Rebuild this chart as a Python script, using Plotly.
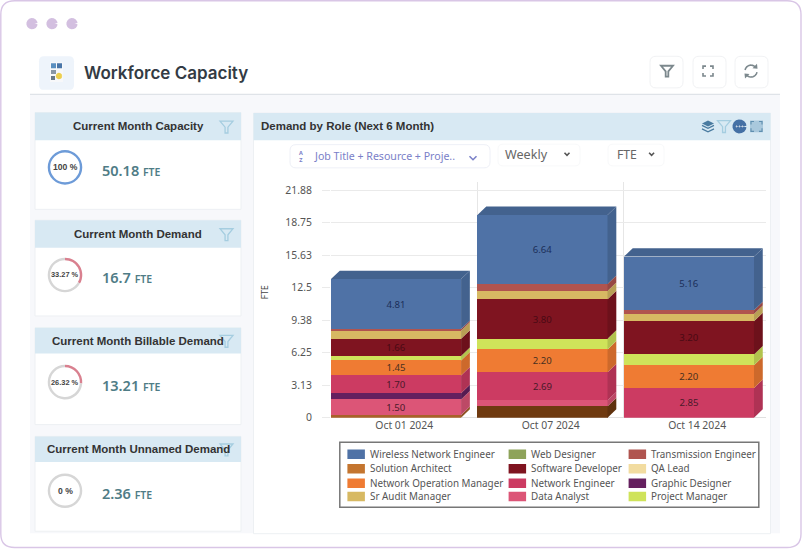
import numpy as np
import plotly.graph_objects as go

W, H = 802, 556

# --- data ---
dates = ["Oct 01 2024", "Oct 07 2024", "Oct 14 2024"]
y_ticks = [0, 3.13, 6.25, 9.38, 12.5, 15.63, 18.75, 21.88]

solution_architect = [0.26, 1.09, 0]
data_analyst = [1.50, 0.58, 0]
graphic_designer = [0.60, 0, 0]
network_engineer = [1.70, 2.69, 2.85]
network_op_manager = [1.45, 2.20, 2.20]
project_manager = [0.42, 1.03, 1.03]
software_developer = [1.66, 3.80, 3.20]
sr_audit_manager = [0.77, 0.80, 0.70]
transmission_engineer = [0.16, 0.67, 0.35]
wireless_engineer = [4.81, 6.64, 5.16]

# bottom to top
stack = [
    ("Solution Architect", solution_architect, ["#a8612a", "#6f3a10", "#6f3a10"], "#3a2010"),
    ("Data Analyst", data_analyst, "#dc5577", "#4a1a2a"),
    ("Graphic Designer", graphic_designer, "#65205f", "#2a1030"),
    ("Network Engineer", network_engineer, "#cc3b62", "#4a1a2a"),
    ("Network Operation Manager", network_op_manager, "#ef7b33", "#4a3020"),
    ("Project Manager", project_manager, "#cfe35a", "#444444"),
    ("Software Developer", software_developer, "#7f1420", "#4a0a14"),
    ("Sr Audit Manager", sr_audit_manager, "#d7b963", "#444444"),
    ("Transmission Engineer", transmission_engineer, "#b0544f", "#444444"),
    ("Wireless Network Engineer", wireless_engineer, "#4f72a6", "#1c2f5a"),
]

legend_rows = [
    [("Wireless Network Engineer", "#4f72a6"), ("Web Designer", "#8ea35a"), ("Transmission Engineer", "#b0544f")],
    [("Solution Architect", "#c4752f"), ("Software Developer", "#7f1420"), ("QA Lead", "#f2dca0")],
    [("Network Operation Manager", "#ef7b33"), ("Network Engineer", "#cc3b62"), ("Graphic Designer", "#65205f")],
    [("Sr Audit Manager", "#d7b963"), ("Data Analyst", "#dc5577"), ("Project Manager", "#cfe35a")],
]

card_titles = ["Current Month Capacity", "Current Month Demand",
               "Current Month Billable Demand", "Current Month Unnamed Demand"]
card_values = ["50.18", "16.7", "13.21", "2.36"]
card_percents = [100, 33.27, 26.32, 0]
card_percent_labels = ["100 %", "33.27 %", "26.32 %", "0 %"]


# pixel helpers, the page is laid out in screen pixels
def px(x):
    return x / W


def py(y):
    return 1 - y / H


shapes = []
notes = []


def rect(x0, y0, x1, y1, fill, line=None, lw=0, r=0):
    a, b, c, d = px(x0), py(y0), px(x1), py(y1)
    rx, ry = r / W, r / H
    path = (f"M{a + rx},{b} L{c - rx},{b} Q{c},{b} {c},{b - ry} L{c},{d + ry} Q{c},{d} {c - rx},{d} "
            f"L{a + rx},{d} Q{a},{d} {a},{d + ry} L{a},{b - ry} Q{a},{b} {a + rx},{b} Z")
    shapes.append(dict(type="path", xref="paper", yref="paper", path=path, fillcolor=fill,
                       line=dict(color=line or "rgba(0,0,0,0)", width=lw), layer="below"))


def poly(points, fill=None, line=None, lw=1, closed=True):
    path = "M" + " L".join(f"{px(x)},{py(y)}" for x, y in points) + (" Z" if closed else "")
    shapes.append(dict(type="path", xref="paper", yref="paper", path=path,
                       fillcolor=fill or "rgba(0,0,0,0)",
                       line=dict(color=line or "rgba(0,0,0,0)", width=lw), layer="below"))


def text(x, y, s, size, color, anchor="left", family="Liberation Sans", weight=None, angle=0):
    font = dict(size=size, color=color, family=family)
    if weight:
        font["weight"] = weight
    notes.append(dict(xref="paper", yref="paper", x=px(x), y=py(y), text=s, showarrow=False,
                      xanchor=anchor, yanchor="middle", font=font, textangle=angle,
                      borderpad=0, borderwidth=0))


def funnel(cx, cy, s, color, lw=1.3):
    poly([(cx - s, cy - s * 0.9), (cx + s, cy - s * 0.9), (cx + s * 0.22, cy + 0.05 * s),
          (cx + s * 0.22, cy + s * 0.95), (cx - s * 0.22, cy + s * 0.95), (cx - s * 0.22, cy + 0.05 * s)],
         line=color, lw=lw)


def arc(cx, cy, r, a0, a1, color, lw=1.6):
    t = np.radians(np.linspace(a0, a1, 16))
    poly(list(zip(cx + r * np.cos(t), cy + r * np.sin(t))), line=color, lw=lw, closed=False)


def chevron(cx, cy, s, color, lw=1.6):
    poly([(cx - s, cy - s * 0.5), (cx, cy + s * 0.5), (cx + s, cy - s * 0.5)], line=color, lw=lw, closed=False)


def darker(c, k=0.86):
    v = [int(c[i:i + 2], 16) for i in (1, 3, 5)]
    return "#%02x%02x%02x" % tuple(int(i * k) for i in v)


# --- page frame ---
rect(0.8, 0.8, 801, 554.5, "#ffffff", "#d9c6e6", 1.4, r=14)
for dx in (32, 52, 72):
    arc(dx, 24, 2.8, 0, 360, "#d3bfe0", lw=5.6)
rect(30, 96, 780, 540, "#f7f8fb")
poly([(30, 95.5), (780, 95.5)], line="#dfe3e8", lw=1.2, closed=False)

# header
rect(39, 57, 74, 91, "#eef4fb", r=5)
rect(50, 63, 63, 83, "#f7f8fa")
rect(51, 64, 56, 69, "#5a8fc0")
rect(57, 64, 62, 69, "#4a76a8")
rect(51, 71, 56, 75, "#8a97a5")
arc(59, 77, 1.6, 0, 360, "#eccf4e", lw=3.2)
rect(51, 77, 55, 81, "#6b7a88")
text(84, 74, "Workforce Capacity", 17, "#333b44", family="Inter", weight=600)
for bx in (650, 693, 735):
    rect(bx, 57, bx + 33, 89, "#ffffff", "#f1f2f4", 1, r=6)
funnel(667, 72, 6, "#7c888d", 1.8)
for sx, sy in ((-1, -1), (1, -1), (1, 1), (-1, 1)):
    poly([(708 + sx * 5, 72 + sy * 2), (708 + sx * 5, 72 + sy * 5), (708 + sx * 2, 72 + sy * 5)],
         line="#7c888d", lw=1.6, closed=False)
arc(751, 72, 6, 190, 320, "#7c888d")
arc(751, 72, 6, 10, 140, "#7c888d")
poly([(757, 64.5), (757.5, 69.5), (752.5, 69)], fill="#7c888d")
poly([(745, 79.5), (744.5, 74.5), (749.5, 75)], fill="#7c888d")

# --- KPI cards on the left ---
card_tops = [114, 223, 332, 442]
card_head = [142, 251, 358, 468]
card_ends = [212, 320, 430, 538]
pies = []
for i, title in enumerate(card_titles):
    top, head, end = card_tops[i], card_head[i], card_ends[i]
    rect(35, top, 241, end, "#ffffff", "#edf0f3", 1)
    rect(35, top, 241, head, "#d8e9f3")
    text(138, (top + head) / 2, title, 11.5, "#333333", anchor="center", weight=700)
    funnel(226.5, (top + head) / 2 + 0.5, 6.5, "#a5cde0", 1.3)

    cy = (head + 27.5) if i < 2 else (head + 29)
    colour = "#6d9bd8" if i == 0 else "#d9808f"
    pies.append(go.Pie(values=[card_percents[i], 100 - card_percents[i]], hole=0.86, sort=False,
                       direction="clockwise", rotation=0, textinfo="none", hoverinfo="skip",
                       showlegend=False, marker=dict(colors=[colour, "#d6d6d6"], line=dict(width=0)),
                       domain=dict(x=[px(47.5), px(82.5)], y=[py(cy + 17.5), py(cy - 17.5)])))
    text(65, cy, card_percent_labels[i], 8.6 if i in (0, 3) else 7.4, "#444444", anchor="center", weight=700)
    text(102, cy + 2.5,
         f"{card_values[i]} <span style='font-size:10.5px'>FTE</span>",
         14.5, "#4f7c86", family="Noto Sans", weight=600)

# --- chart panel ---
rect(253.5, 114.5, 770.5, 540.5, "#ffffff", "#edf0f3", 1)
rect(253.5, 114.5, 770.5, 142, "#d8e9f3")
text(261, 128, "Demand by Role (Next 6 Month)", 11.5, "#333333", weight=700)
# header icons
for off in (0, 3.5):
    poly([(702, 130 + off - 3), (708, 133 + off - 3), (714, 130 + off - 3)], line="#4a7ba0", lw=1.3, closed=False)
poly([(702, 125), (708, 122), (714, 125), (708, 128)], fill="#4a7ba0")
funnel(724, 128, 6.5, "#a5cde0", 1.3)
arc(739.5, 128, 3.5, 0, 360, "#4470a5", lw=7)
for d in (-2.8, 0, 2.8):
    arc(739.5 + d, 128, 0.5, 0, 360, "#ffffff", lw=1)
rect(750, 122, 763, 134, "#a9c8dc")
for sx, sy in ((-1, -1), (1, -1), (1, 1), (-1, 1)):
    poly([(756.5 + sx * 5.5, 128 + sy * 2), (756.5 + sx * 5.5, 128 + sy * 5), (756.5 + sx * 2.5, 128 + sy * 5)],
         line="#5f8fb0", lw=1.1, closed=False)

# dropdowns
rect(290, 146.5, 490, 170, "#ffffff", "#eef0f7", 1, r=6)
text(299, 158, "A<br>Z", 5.5, "#7a80c8", family="Noto Sans", weight=700)
text(314, 158, "Job Title + Resource + Proje..", 10.6, "#7a80c8", family="Noto Sans")
chevron(473, 160, 3.5, "#7a80c8")
rect(498, 146, 580, 168, "#ffffff", "#f8f9fa", 1, r=5)
rect(608, 146, 664, 168, "#ffffff", "#f8f9fa", 1, r=5)
text(505, 156, "Weekly", 12.6, "#666666", family="Noto Sans")
chevron(567, 156, 2.5, "#555555")
text(617, 156, "FTE", 12.2, "#666666", family="Noto Sans")
chevron(651.6, 156, 2.5, "#555555")

# --- the chart ---
x = np.arange(len(dates))
bar_width = 0.888
depth_x, depth_y = 0.06, 0.81

fig = go.Figure()
totals = np.zeros(len(dates))
for name, values, colour, label_colour in stack:
    values = np.array(values, dtype=float)
    fig.add_trace(go.Bar(x=x, y=values, name=name, width=bar_width, offset=-0.5,
                         marker=dict(color=colour, line=dict(width=0)),
                         text=[f"{v:.2f}" if v >= 1.4 else "" for v in values],
                         textposition="inside", insidetextanchor="middle", textangle=0,
                         constraintext="none",
                         textfont=dict(size=9.6, color=label_colour, family="Noto Sans"),
                         hoverinfo="skip", showlegend=False))
    colours = colour if isinstance(colour, list) else [colour] * len(dates)
    for i in x:
        if values[i] == 0:
            continue
        # side face of this segment
        right = i - 0.5 + bar_width
        y0, y1 = totals[i], totals[i] + values[i]
        fig.add_trace(go.Scatter(x=[right, right + depth_x, right + depth_x, right, right],
                                 y=[y0, y0 + depth_y, y1 + depth_y, y1, y0],
                                 mode="lines", fill="toself", line=dict(width=0),
                                 fillcolor=darker(colours[i]), hoverinfo="skip", showlegend=False))
    totals = totals + values

# top faces take the colour of the last segment
for i in x:
    left, right = i - 0.5, i - 0.5 + bar_width
    fig.add_trace(go.Scatter(x=[left, left + depth_x, right + depth_x, right, left],
                             y=[totals[i], totals[i] + depth_y, totals[i] + depth_y, totals[i], totals[i]],
                             mode="lines", fill="toself", line=dict(width=0),
                             fillcolor=darker(stack[-1][2]), hoverinfo="skip", showlegend=False))

for p in pies:
    fig.add_trace(p)

text(265, 296, "FTE", 8.6, "#444444", anchor="center", family="Noto Sans", angle=-90)

# legend box, three columns like the original
rect(339.8, 448, 758.8, 513.7, "#ffffff", "#777777", 1.5)
col_swatch = [347.4, 508.6, 628.6]
col_text = [369.7, 531, 651]
row_y = [460, 474.8, 489.3, 502.8]
for r, row in enumerate(legend_rows):
    for c, (name, colour) in enumerate(row):
        rect(col_swatch[c], row_y[r] - 4.8, col_swatch[c] + 17.5, row_y[r] + 4.8, colour)
        text(col_text[c], row_y[r] - 0.5, name, 9.85, "#555555", family="Noto Sans")

plot_left, plot_right = 331, 766
plot_top, plot_bottom = 184.4, 423
y_top = (plot_bottom - plot_top) / ((plot_bottom - 192.6) / 21.88)

fig.update_layout(
    width=W, height=H, autosize=False, barmode="stack",
    margin=dict(l=0, r=0, t=0, b=0, pad=0),
    paper_bgcolor="#ffffff", plot_bgcolor="rgba(0,0,0,0)",
    showlegend=False, shapes=shapes, annotations=notes,
    font=dict(family="Noto Sans", color="#555555"),
    xaxis=dict(domain=[px(plot_left), px(plot_right)], range=[-0.5, 2.47],
               tickmode="array", tickvals=x, ticktext=dates, ticks="", showgrid=False,
               tickfont=dict(size=10.4, color="#555555"), zeroline=False, showline=False,
               minor=dict(tickmode="array", tickvals=[-0.5, 0.5, 1.5], showgrid=True,
                          gridcolor="#e6e6e6", gridwidth=1, ticks="")),
    yaxis=dict(domain=[py(plot_bottom), py(plot_top)], range=[0, y_top],
               tickmode="array", tickvals=y_ticks, ticktext=[str(t) for t in y_ticks],
               ticks="outside", ticklen=8, tickcolor="#eaeaea", tickwidth=1,
               ticklabelstandoff=8, gridcolor="#eaeaea", gridwidth=1,
               zeroline=True, zerolinecolor="#e0e0e0", zerolinewidth=1, showline=False,
               tickfont=dict(size=10.4, color="#555555")),
)

# browser body margin would push the 802x556 figure off the window
fig.write_html("out.html", post_script="document.body.style.margin='0';", config={"displayModeBar": False})
